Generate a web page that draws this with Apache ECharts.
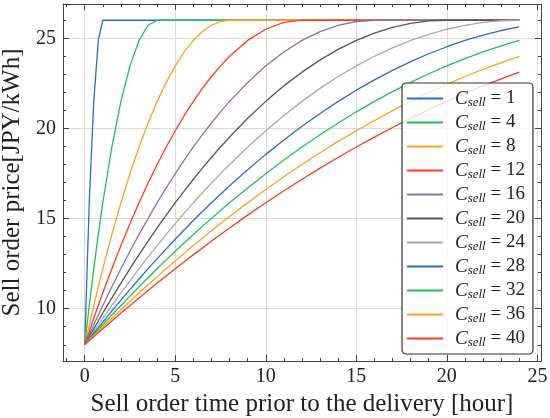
<!DOCTYPE html>
<html>
<head>
<meta charset="utf-8">
<script src="https://cdn.jsdelivr.net/npm/echarts@6/dist/echarts.min.js"></script>
<style>
  html, body { margin: 0; padding: 0; background: #fff; }
  #chart { width: 550px; height: 418px; }
</style>
</head>
<body>
<div id="chart"></div>
<script>
// sell order time prior to delivery [hour]
const hours = [0, 0.25, 0.5, 0.75, 1, 1.5, 2, 2.5, 3, 3.5, 4, 4.5, 5, 5.5, 6, 6.5, 7, 7.5, 8,
  9, 10, 11, 12, 13, 14, 15, 16, 17, 18, 19, 20, 21, 22, 23, 24]
const cSell = [1, 4, 8, 12, 16, 20, 24, 28, 32, 36, 40]

// price [JPY/kWh], one array per C_sell
const price1  = [8, 15.9, 21.5, 24.9, 26, 26, 26, 26, 26, 26, 26, 26, 26, 26, 26, 26, 26, 26, 26,
  26, 26, 26, 26, 26, 26, 26, 26, 26, 26, 26, 26, 26, 26, 26, 26]
const price4  = [8, 10.18, 12.22, 14.12, 15.88, 18.97, 21.5, 23.47, 24.88, 25.72, 26, 26, 26, 26, 26, 26, 26, 26, 26,
  26, 26, 26, 26, 26, 26, 26, 26, 26, 26, 26, 26, 26, 26, 26, 26]
const price8  = [8, 9.11, 10.18, 11.22, 12.22, 14.12, 15.88, 17.49, 18.97, 20.3, 21.5, 22.55, 23.47, 24.24, 24.88, 25.37, 25.72, 25.93, 26,
  26, 26, 26, 26, 26, 26, 26, 26, 26, 26, 26, 26, 26, 26, 26, 26]
const price12 = [8, 8.74, 9.47, 10.18, 10.88, 12.22, 13.5, 14.72, 15.88, 16.97, 18.0, 18.97, 19.87, 20.72, 21.5, 22.22, 22.88, 23.47, 24.0,
  24.88, 25.5, 25.88, 26, 26, 26, 26, 26, 26, 26, 26, 26, 26, 26, 26, 26]
const price16 = [8, 8.56, 9.11, 9.65, 10.18, 11.22, 12.22, 13.19, 14.12, 15.01, 15.88, 16.7, 17.49, 18.25, 18.97, 19.65, 20.3, 20.92, 21.5,
  22.55, 23.47, 24.24, 24.88, 25.37, 25.72, 25.93, 26, 26, 26, 26, 26, 26, 26, 26, 26]
const price20 = [8, 8.45, 8.89, 9.32, 9.76, 10.6, 11.42, 12.22, 13.0, 13.75, 14.48, 15.19, 15.88, 16.54, 17.18, 17.8, 18.4, 18.97, 19.52,
  20.56, 21.5, 22.36, 23.12, 23.8, 24.38, 24.88, 25.28, 25.6, 25.82, 25.96, 26, 26, 26, 26, 26]
const price24 = [8, 8.37, 8.74, 9.11, 9.47, 10.18, 10.88, 11.55, 12.22, 12.87, 13.5, 14.12, 14.72, 15.3, 15.88, 16.43, 16.97, 17.49, 18.0,
  18.97, 19.87, 20.72, 21.5, 22.22, 22.88, 23.47, 24.0, 24.47, 24.88, 25.22, 25.5, 25.72, 25.88, 25.97, 26]
const price28 = [8, 8.32, 8.64, 8.95, 9.26, 9.88, 10.48, 11.07, 11.65, 12.22, 12.78, 13.32, 13.85, 14.38, 14.89, 15.39, 15.88, 16.35, 16.82,
  17.71, 18.56, 19.36, 20.12, 20.83, 21.5, 22.12, 22.69, 23.22, 23.7, 24.14, 24.53, 24.88, 25.17, 25.43, 25.63]
const price32 = [8, 8.28, 8.56, 8.83, 9.11, 9.65, 10.18, 10.7, 11.22, 11.72, 12.22, 12.71, 13.19, 13.66, 14.12, 14.57, 15.01, 15.45, 15.88,
  16.7, 17.49, 18.25, 18.97, 19.65, 20.3, 20.92, 21.5, 22.04, 22.55, 23.03, 23.47, 23.87, 24.24, 24.58, 24.88]
const price36 = [8, 8.25, 8.5, 8.74, 8.99, 9.47, 9.94, 10.41, 10.88, 11.33, 11.78, 12.22, 12.65, 13.08, 13.5, 13.91, 14.32, 14.72, 15.11,
  15.88, 16.61, 17.32, 18.0, 18.65, 19.28, 19.87, 20.44, 20.99, 21.5, 21.99, 22.44, 22.88, 23.28, 23.65, 24.0]
const price40 = [8, 8.22, 8.45, 8.67, 8.89, 9.32, 9.76, 10.18, 10.6, 11.01, 11.42, 11.82, 12.22, 12.61, 13.0, 13.37, 13.75, 14.12, 14.48,
  15.19, 15.88, 16.54, 17.18, 17.8, 18.4, 18.97, 19.52, 20.05, 20.56, 21.04, 21.5, 21.94, 22.36, 22.75, 23.12]

const prices = [price1, price4, price8, price12, price16, price20, price24, price28, price32, price36, price40]
const colors = ['#2a6fbf', '#1fc25a', '#ffa020', '#ff3d17', '#9470a8', '#555555', '#aaaaaa',
  '#2a6fbf', '#1fc25a', '#ffa020', '#ff3d17']

const font = 'Liberation Serif'
const frame = '#444'
const ink = '#222'

const series = cSell.map((c, i) => ({
  name: String(c),
  type: 'line',
  symbol: 'none',
  color: colors[i],
  lineStyle: { width: 1.3 },
  data: hours.map((h, j) => [h, prices[i][j]])
}))

// bare axis used for the tick marks on every side
const tickSide = (pos, isX) => ({
  type: 'value',
  position: pos,
  min: isX ? -1.2 : 7.1,
  max: isX ? 25.2 : 26.9,
  splitNumber: isX ? 5 : 4,
  axisLine: { onZero: false, lineStyle: { color: frame, width: 1 } },
  axisTick: { inside: true, length: 6, lineStyle: { color: frame } },
  minorTick: { show: true, splitNumber: 5, length: 3, lineStyle: { color: frame } },
  axisLabel: { show: false },
  splitLine: { show: false }
})

const options = {
  animation: false,
  backgroundColor: '#fff',
  grid: { left: 63, right: 9, top: 4, bottom: 57, outerBoundsMode: 'none' },
  legend: {
    orient: 'vertical',
    left: 402,
    top: 83,
    icon: 'rect',
    itemWidth: 36,
    itemHeight: 2,
    itemGap: 3,
    padding: [5, 8, 5, 5],
    backgroundColor: 'rgba(255,255,255,0.8)',
    borderColor: '#333',
    borderWidth: 1.2,
    borderRadius: 4,
    data: cSell.map(String),
    formatter: name => `{c|C}{s|sell}{e| = ${name}}`,
    textStyle: {
      fontFamily: font,
      color: ink,
      padding: [0, 0, 0, 7],
      rich: {
        c: { fontFamily: font, fontStyle: 'italic', fontSize: 19, lineHeight: 20, color: ink },
        s: { fontFamily: font, fontStyle: 'italic', fontSize: 13, lineHeight: 12, color: ink, padding: [8, 0, 0, 0] },
        e: { fontFamily: font, fontSize: 19, lineHeight: 20, color: ink }
      }
    }
  },
  xAxis: [
    Object.assign(tickSide('bottom', true), {
      name: 'Sell order time prior to the delivery [hour]',
      nameLocation: 'middle',
      nameGap: 25,
      nameTextStyle: { fontFamily: font, fontSize: 25, color: ink },
      axisLabel: { show: true, fontFamily: font, fontSize: 20, color: ink, margin: 6, showMinLabel: false, showMaxLabel: false },
      splitLine: { show: true, lineStyle: { color: '#dadada', width: 1 } }
    }),
    tickSide('top', true)
  ],
  yAxis: [
    Object.assign(tickSide('left', false), {
      name: 'Sell order price[JPY/kWh]',
      nameLocation: 'middle',
      nameGap: 37,
      nameTextStyle: { fontFamily: font, fontSize: 25, color: ink },
      axisLabel: { show: true, fontFamily: font, fontSize: 20, color: ink, margin: 7, showMinLabel: false, showMaxLabel: false },
      splitLine: { show: true, lineStyle: { color: '#dadada', width: 1 } }
    }),
    tickSide('right', false)
  ],
  series: series
}

const chart = echarts.init(document.getElementById('chart'))
chart.setOption(options, true)
</script>
</body>
</html>
